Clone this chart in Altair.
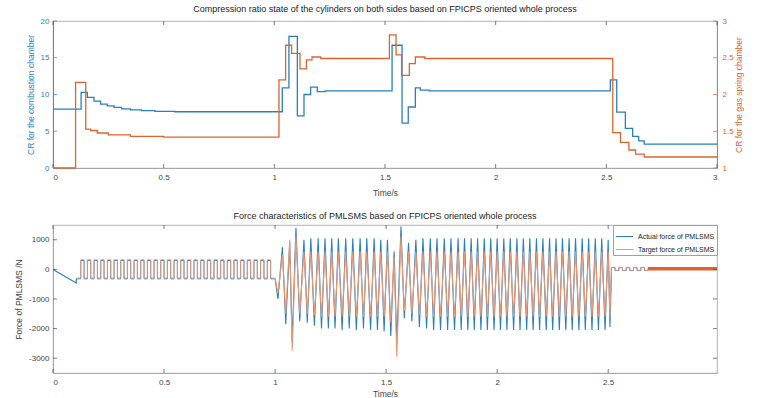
import altair as alt
import pandas as pd

# ---------------- Top panel: compression ratios (step signals) ----------------
cr_comb_t = [0.0, 0.127, 0.155, 0.185, 0.215, 0.245, 0.276, 0.31, 0.35, 0.40, 0.46, 0.55,
             1.036, 1.066, 1.104, 1.134, 1.164, 1.194, 1.23,
             1.532, 1.577, 1.605, 1.637, 1.66, 1.70,
             2.518, 2.547, 2.586, 2.619, 2.646, 2.671, 3.0]
cr_comb_v = [8.0, 10.3, 9.6, 9.1, 8.7, 8.45, 8.25, 8.05, 7.9, 7.8, 7.7, 7.65,
             10.9, 17.9, 7.1, 10.0, 11.0, 10.4, 10.5,
             16.7, 6.1, 8.3, 10.9, 10.6, 10.5,
             12.0, 7.6, 5.4, 4.3, 3.7, 3.25, 3.25]
cr_gas_t = [0.0, 0.102, 0.148, 0.17, 0.2, 0.25, 0.35, 0.5,
            1.021, 1.051, 1.078, 1.116, 1.145, 1.17, 1.21,
            1.52, 1.55, 1.575, 1.61, 1.637, 1.68,
            2.529, 2.564, 2.602, 2.632, 2.671, 3.0]
cr_gas_v = [1.0, 2.165, 1.53, 1.51, 1.476, 1.45, 1.43, 1.42,
            2.2, 2.67, 2.56, 2.35, 2.47, 2.51, 2.49,
            2.81, 2.54, 2.26, 2.42, 2.51, 2.49,
            1.48, 1.35, 1.245, 1.19, 1.15, 1.15]
top_x_ticks = [0, 0.5, 1, 1.5, 2, 2.5, 3]
cr_comb_ticks = [0, 5, 10, 15, 20]
cr_gas_ticks = [1, 1.5, 2, 2.5, 3]

# ---------------- Bottom panel: PMLSMS force ----------------
ACT = "Actual force of PMLSMS"
TGT = "Target force of PMLSMS"

ramp_t = [0.0, 0.105, 0.105]
ramp_actual = [0, -460, -310]

sq_rise = [0.125, 0.155, 0.185, 0.215, 0.245, 0.275, 0.305, 0.335, 0.365, 0.395,
           0.425, 0.455, 0.485, 0.515, 0.545, 0.575, 0.605, 0.635, 0.665, 0.695,
           0.725, 0.755, 0.785, 0.815, 0.845, 0.875, 0.905, 0.935, 0.965]
sq_fall = [0.140, 0.170, 0.200, 0.230, 0.260, 0.290, 0.320, 0.350, 0.380, 0.410,
           0.440, 0.470, 0.500, 0.530, 0.560, 0.590, 0.620, 0.650, 0.680, 0.710,
           0.740, 0.770, 0.800, 0.830, 0.860, 0.890, 0.920, 0.950, 0.980]
sq_start, sq_end = 0.105, 1.000
sq_hi_actual, sq_lo_actual = 300, -320
sq_hi_target, sq_lo_target = 330, -290

osc_start_t, osc_start_actual, osc_start_target = 1.000, -320, -290
osc_peak_t = [1.033, 1.066, 1.094,
              1.130, 1.161, 1.194, 1.225, 1.255, 1.285, 1.318, 1.350, 1.383, 1.413, 1.446, 1.476, 1.506,
              1.536, 1.567, 1.601,
              1.634, 1.666, 1.699, 1.729, 1.762, 1.792, 1.824,
              1.853, 1.883, 1.912, 1.942, 1.971, 2.000, 2.030, 2.059, 2.089, 2.118, 2.147, 2.177,
              2.206, 2.236, 2.265, 2.294, 2.324, 2.353, 2.383, 2.412, 2.442, 2.471, 2.500]
osc_peak_actual = [750, 900, 1400,
                   1000, 1050, 1050, 1050, 1050, 1050, 1050, 1050, 1050, 1050, 1050, 1000, 1000,
                   600, 1450, 900,
                   1000, 1050, 1050, 1050, 1050, 1050, 1050,
                   1050, 1050, 1050, 1050, 1050, 1050, 1050, 1050, 1050, 1050, 1050, 1050,
                   1050, 1050, 1050, 1050, 1050, 1050, 1050, 1050, 1050, 1050, 1000]
osc_peak_target = [500, 1000, 1100,
                   600, 600, 600, 600, 600, 600, 600, 600, 600, 600, 600, 600, 600,
                   400, 1100, 600,
                   600, 600, 600, 600, 600, 600, 600,
                   600, 600, 600, 600, 600, 600, 600, 600, 600, 600, 600, 600,
                   600, 600, 600, 600, 600, 600, 600, 600, 600, 600, 600]
osc_trough_t = [1.013, 1.048, 1.077, 1.111,
                1.145, 1.177, 1.209, 1.240, 1.270, 1.302, 1.334, 1.366, 1.398, 1.430, 1.461, 1.491,
                1.521, 1.548, 1.582, 1.616,
                1.650, 1.682, 1.714, 1.745, 1.777, 1.808,
                1.838, 1.868, 1.897, 1.927, 1.956, 1.986, 2.015, 2.044, 2.074, 2.103, 2.133, 2.162,
                2.191, 2.221, 2.250, 2.280, 2.309, 2.338, 2.368, 2.397, 2.427, 2.456, 2.486,
                2.508]
osc_trough_actual = [-1000, -1850, -2450, -1750,
                     -1800, -1900, -2000, -2000, -2000, -2050, -2000, -2050, -2000, -2050, -2050, -2100,
                     -2250, -2500, -1650, -1750,
                     -1950, -2000, -2050, -2050, -2050, -2050,
                     -2050, -2050, -2050, -2050, -2050, -2050, -2050, -2050, -2050, -2050, -2050, -2050,
                     -2050, -2050, -2050, -2050, -2050, -2050, -2050, -2050, -2050, -2050, -2050,
                     -1950]
osc_trough_target = [-800, -1500, -2750, -1500,
                     -1500, -1550, -1600, -1600, -1600, -1600, -1600, -1600, -1600, -1600, -1600, -1600,
                     -1800, -2950, -1400, -1500,
                     -1550, -1600, -1600, -1600, -1600, -1600,
                     -1600, -1600, -1600, -1600, -1600, -1600, -1600, -1600, -1600, -1600, -1600, -1600,
                     -1600, -1600, -1600, -1600, -1600, -1600, -1600, -1600, -1600, -1600, -1600,
                     -1600]
osc_end_t, osc_end_v = 2.515, 70

sw_rise = [2.515, 2.548, 2.581, 2.614, 2.647]
sw_fall = [2.531, 2.564, 2.597, 2.630, 2.663]
sw_end = 2.678
sw_hi, sw_lo = 70, -30

hold_t = [2.678, 2.99]
hold_v = [25, 25]

bot_x_ticks = [0, 0.5, 1, 1.5, 2, 2.5]
force_ticks = [-3000, -2000, -1000, 0, 1000]

# ---------------- styling ----------------
BLUE = "#2a7fc0"
ORANGE = "#dc6430"
ORANGE_T = "#eb9872"
TXT = "#444444"
FRAME = "#a0a0a0"
FONT = "Liberation Sans"
W = 664
H1 = 147
H2 = 148
TK = 4


def rows(series, ts, vs):
    return [{"t": t, "f": v, "series": series, "i": k} for k, (t, v) in enumerate(zip(ts, vs))]


def step_rows(series, start, rise, fall, end, hi, lo):
    ts, vs = [start], [lo]
    for r, f in zip(rise, fall):
        ts += [r, f]
        vs += [hi, lo]
    ts.append(end)
    vs.append(lo)
    return rows(series, ts, vs)


def osc_rows(series, start_v, peak_v, trough_v):
    pts = [(osc_start_t, start_v)]
    pts += list(zip(osc_peak_t, peak_v)) + list(zip(osc_trough_t, trough_v))
    pts.sort(key=lambda p: p[0])
    pts.append((osc_end_t, osc_end_v))
    return rows(series, [p[0] for p in pts], [p[1] for p in pts])


# ---------------- top chart ----------------
top_comb = pd.DataFrame({"t": cr_comb_t, "v": cr_comb_v})
top_gas = pd.DataFrame({"t": cr_gas_t, "g": cr_gas_v})
xt_top_df = pd.DataFrame({"t": top_x_ticks})
yt_top_df = pd.DataFrame({"v": cr_comb_ticks})

x_top = alt.X("t:Q", scale=alt.Scale(domain=[0, 3], nice=False, zero=False),
              axis=alt.Axis(values=top_x_ticks, title="Time/s", labelExpr="datum.value", grid=False,
                            domainColor=FRAME, labelPadding=5, titlePadding=7))
y_left = alt.Y("v:Q", scale=alt.Scale(domain=[0, 20], nice=False),
               axis=alt.Axis(orient="left", values=cr_comb_ticks, title="CR for the combustion chamber",
                             labelColor=BLUE, titleColor=BLUE, domainColor=BLUE, grid=False,
                             labelPadding=4, titlePadding=5, labelExpr="datum.value"))
y_right = alt.Y("g:Q", scale=alt.Scale(domain=[1, 3], nice=False, zero=False),
                axis=alt.Axis(orient="right", values=cr_gas_ticks, title="CR for the gas spring chamber",
                              titleAngle=270, labelColor=ORANGE, titleColor=ORANGE, domainColor=ORANGE,
                              grid=False, labelPadding=5, titlePadding=10, labelExpr="datum.value"))

comb_line = alt.Chart(top_comb).mark_line(interpolate="step-after", color=BLUE, strokeWidth=1.3).encode(
    x=x_top, y=y_left)
gas_line = alt.Chart(top_gas).mark_line(interpolate="step-after", color=ORANGE, strokeWidth=1.3).encode(
    x=x_top, y=y_right)
tick_b = alt.Chart(xt_top_df).mark_rule(color=TXT, strokeWidth=0.7).encode(
    x=x_top, y=alt.value(H1), y2=alt.value(H1 - TK))
tick_t = alt.Chart(xt_top_df).mark_rule(color=TXT, strokeWidth=0.7).encode(
    x=x_top, y=alt.value(0), y2=alt.value(TK))
tick_l = alt.Chart(yt_top_df).mark_rule(color=BLUE, strokeWidth=0.7).encode(
    y=y_left, x=alt.value(0), x2=alt.value(TK))
tick_r = alt.Chart(yt_top_df).mark_rule(color=ORANGE, strokeWidth=0.7).encode(
    y=y_left, x=alt.value(W), x2=alt.value(W - TK))

top = alt.layer(
    alt.layer(comb_line, tick_b, tick_t, tick_l, tick_r),
    gas_line,
).resolve_scale(y="independent").properties(
    width=W, height=H1,
    title=alt.TitleParams("Compression ratio state of the cylinders on both sides based on FPICPS oriented whole process",
                          fontSize=9, font=FONT, fontWeight="normal", color="#222222", offset=3, anchor="middle"))

# ---------------- bottom chart ----------------
ramp_df = pd.DataFrame(rows(ACT, ramp_t, ramp_actual))
sq_df = pd.DataFrame(step_rows(ACT, sq_start, sq_rise, sq_fall, sq_end, sq_hi_actual, sq_lo_actual)
                     + step_rows(TGT, sq_start, sq_rise, sq_fall, sq_end, sq_hi_target, sq_lo_target))
osc_df = pd.DataFrame(osc_rows(ACT, osc_start_actual, osc_peak_actual, osc_trough_actual)
                      + osc_rows(TGT, osc_start_target, osc_peak_target, osc_trough_target))
sw_df = pd.DataFrame(step_rows(ACT, osc_end_t, sw_rise, sw_fall, sw_end, sw_hi - 10, sw_lo - 10)
                     + step_rows(TGT, osc_end_t, sw_rise, sw_fall, sw_end, sw_hi, sw_lo))
hold_df = pd.DataFrame({"t": hold_t, "f": hold_v})
xt_bot_df = pd.DataFrame({"t": bot_x_ticks})
yt_bot_df = pd.DataFrame({"f": force_ticks})

x_bot = alt.X("t:Q", scale=alt.Scale(domain=[0, 2.99], nice=False, zero=False),
              axis=alt.Axis(values=bot_x_ticks, title="Time/s", labelExpr="datum.value", grid=False,
                            domainColor=FRAME, labelPadding=5, titlePadding=3))
y_bot = alt.Y("f:Q", scale=alt.Scale(domain=[-3500, 1500], nice=False),
              axis=alt.Axis(values=force_ticks, title="Force of PMLSMS /N", labelExpr="datum.value",
                            grid=False, domainColor=FRAME, labelPadding=4, titlePadding=5))
col = alt.Color("series:N", scale=alt.Scale(domain=[ACT, TGT], range=[BLUE, ORANGE_T]),
                legend=alt.Legend(title=None, orient="top-right", offset=0, labelFontSize=7,
                                  labelFont=FONT, labelColor="#222222", symbolType="stroke",
                                  symbolSize=300, symbolStrokeWidth=1, padding=2, rowPadding=0,
                                  strokeColor=FRAME, fillColor="white", labelLimit=200))
order = alt.Order("i:Q")

ramp_l = alt.Chart(ramp_df).mark_line(strokeWidth=1.2).encode(x=x_bot, y=y_bot, color=col, order=order)
sq_l = alt.Chart(sq_df).mark_line(interpolate="step-after", strokeWidth=0.9).encode(
    x=x_bot, y=y_bot, color=col, order=order)
osc_l = alt.Chart(osc_df).mark_line(strokeWidth=1.1).encode(x=x_bot, y=y_bot, color=col, order=order)
sw_l = alt.Chart(sw_df).mark_line(interpolate="step-after", strokeWidth=0.9).encode(
    x=x_bot, y=y_bot, color=col, order=order)
hold_l = alt.Chart(hold_df).mark_line(color=ORANGE, strokeWidth=3.5).encode(x=x_bot, y=y_bot)
btick_b = alt.Chart(xt_bot_df).mark_rule(color=TXT, strokeWidth=0.7).encode(
    x=x_bot, y=alt.value(H2), y2=alt.value(H2 - TK))
btick_t = alt.Chart(xt_bot_df).mark_rule(color=TXT, strokeWidth=0.7).encode(
    x=x_bot, y=alt.value(0), y2=alt.value(TK))
btick_l = alt.Chart(yt_bot_df).mark_rule(color=TXT, strokeWidth=0.7).encode(
    y=y_bot, x=alt.value(0), x2=alt.value(TK))
btick_r = alt.Chart(yt_bot_df).mark_rule(color=TXT, strokeWidth=0.7).encode(
    y=y_bot, x=alt.value(W), x2=alt.value(W - TK))

bottom = alt.layer(ramp_l, sq_l, osc_l, sw_l, hold_l, btick_b, btick_t, btick_l, btick_r).properties(
    width=W, height=H2,
    title=alt.TitleParams("Force characteristics of PMLSMS based on FPICPS oriented whole process",
                          fontSize=9, font=FONT, fontWeight="normal", color="#222222", offset=3, anchor="middle"))

chart = alt.vconcat(top, bottom, spacing=14).resolve_legend(color="independent").properties(
    padding={"left": 14, "top": 4, "right": 4, "bottom": 2}, background="white"
).configure_view(stroke=FRAME, strokeWidth=0.8).configure_axis(
    grid=False, ticks=False, labelFont=FONT, titleFont=FONT, labelFontSize=8, titleFontSize=8.5,
    labelColor=TXT, titleColor=TXT, titleFontWeight="normal", domainWidth=0.8
)

chart.save("out.html", embed_options={"renderer": "svg", "actions": False})
